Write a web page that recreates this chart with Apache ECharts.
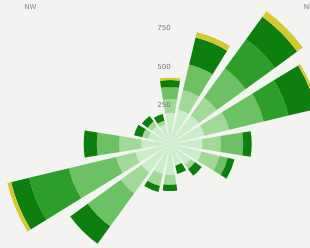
<!DOCTYPE html>
<html>
<head>
<meta charset="utf-8">
<script src="https://cdn.jsdelivr.net/npm/echarts@6/dist/echarts.min.js"></script>
<style>
  html, body { margin: 0; padding: 0; background: #f3f3f1; }
  #main { width: 310px; height: 248px; }
</style>
</head>
<body>
<div id="main"></div>
<script>
// wind directions, clockwise from north
const directions = ['N', 'NNE', 'NE', 'ENE', 'E', 'ESE', 'SE', 'SSE',
                    'S', 'SSW', 'SW', 'WSW', 'W', 'WNW', 'NW', 'NNW'];

const radiusTicks = [0, 250, 500, 750, 1000];

// speed classes (stacked from centre outward)
const speedClasses = ['0-2', '2-4', '4-6', '6-8', '8-10', '>10'];
const speed1 = [200, 230, 230, 230, 210, 210, 165, 145, 200, 200, 230, 230, 185, 145, 145, 130];
const speed2 = [90, 130, 145, 165, 120, 120, 35, 0, 65, 80, 165, 130, 145, 40, 35, 25];
const speed3 = [80, 170, 230, 230, 145, 55, 0, 0, 0, 0, 265, 315, 145, 0, 0, 0];
const speed4 = [0, 0, 235, 165, 0, 0, 0, 0, 0, 0, 0, 265, 0, 0, 0, 0];
const speed5 = [45, 180, 180, 185, 55, 45, 55, 55, 40, 40, 140, 120, 85, 55, 45, 45];
const speed6 = [15, 35, 45, 15, 0, 0, 0, 0, 0, 0, 0, 25, 0, 0, 0, 0];

const colors = ['#cdeccb', '#a3d998', '#6cc162', '#2e9e2a', '#0d7f0f', '#d3c92e'];
const allSpeeds = [speed1, speed2, speed3, speed4, speed5, speed6];

const chart = echarts.init(document.getElementById('main'));

const series = allSpeeds.map((vals, i) => ({
    type: 'bar',
    name: speedClasses[i],
    coordinateSystem: 'polar',
    stack: 'wind',
    data: vals,
    barCategoryGap: '20%',
    itemStyle: { color: colors[i] },
    silent: true
}));

chart.setOption({
    backgroundColor: '#f3f3f1',
    animation: false,
    polar: {
        center: [170, 144],
        radius: 185
    },
    angleAxis: {
        type: 'category',
        data: directions,
        boundaryGap: false,
        startAngle: 90,
        axisLine: { show: false },
        axisTick: { show: false },
        splitLine: { show: false },
        axisLabel: {
            color: '#888',
            fontSize: 7,
            margin: 4,
            fontFamily: 'DejaVu Sans'
        }
    },
    radiusAxis: {
        min: 0,
        max: 1200,
        interval: 250,
        z: 10,
        axisLine: { show: false },
        axisTick: { show: false },
        axisLabel: {
            color: '#777',
            fontSize: 7,
            fontFamily: 'DejaVu Sans',
            align: 'center',
            margin: 6,
            formatter: v => (radiusTicks.indexOf(v) > 0 ? String(v) : '')
        },
        splitLine: { show: false }
    },
    series: series
});
</script>
</body>
</html>
